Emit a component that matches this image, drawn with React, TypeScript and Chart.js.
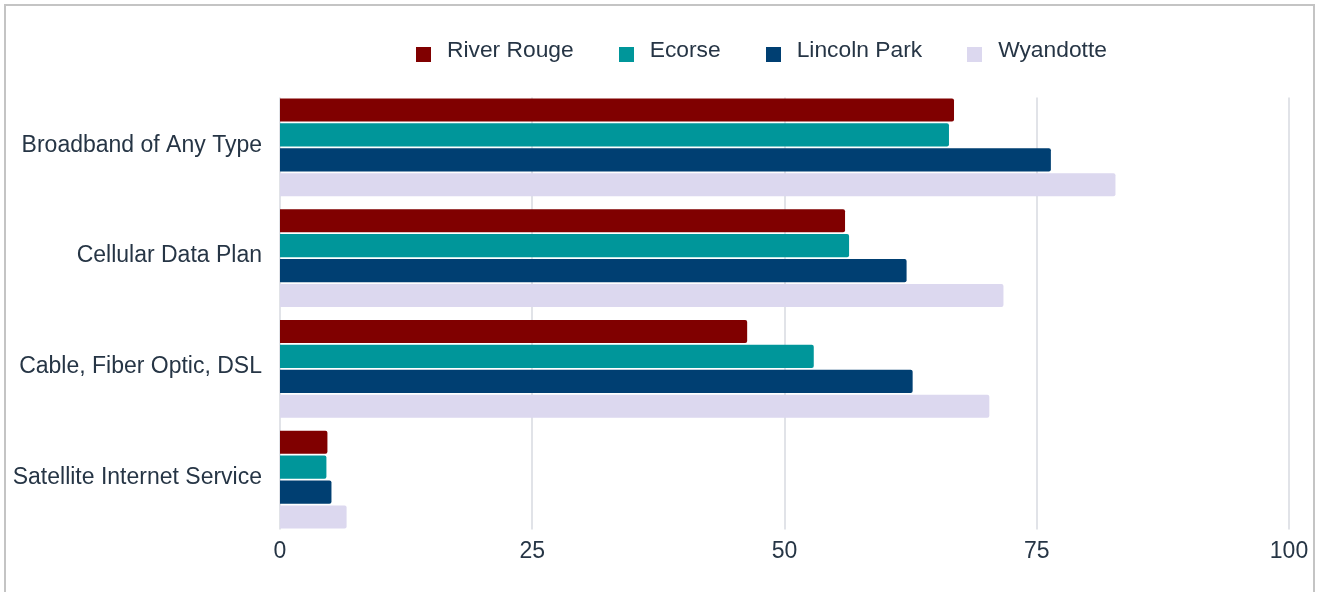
import React, { useEffect, useRef } from 'react';
import { Chart, registerables } from 'chart.js';

Chart.register(...registerables);

const categories = [
  'Broadband of Any Type',
  'Cellular Data Plan',
  'Cable, Fiber Optic, DSL',
  'Satellite Internet Service',
];
const seriesNames = ['River Rouge', 'Ecorse', 'Lincoln Park', 'Wyandotte'];
const riverRouge = [66.8, 56.0, 46.3, 4.7];
const ecorse = [66.3, 56.4, 52.9, 4.6];
const lincolnPark = [76.4, 62.1, 62.7, 5.1];
const wyandotte = [82.8, 71.7, 70.3, 6.6];
const xTicks = [0, 25, 50, 75, 100];
const seriesColors = ['#800000', '#00969a', '#003f72', '#dcd8ef'];

const FONT = "'Liberation Sans', Arial, sans-serif";
const TEXT = '#263545';
const CAT_PCT = 0.9;

const bandGrid = {
  id: 'bandGrid',
  beforeDatasetsDraw(chart: any) {
    const { ctx, chartArea, scales } = chart;
    const x = scales.x;
    const catW = (chartArea.bottom - chartArea.top) / categories.length;
    const top = chartArea.top + (catW * (1 - CAT_PCT)) / 2;
    const bottom = chartArea.bottom - (catW * (1 - CAT_PCT)) / 2;
    ctx.save();
    ctx.strokeStyle = '#e1e3e8';
    ctx.lineWidth = 2;
    xTicks.forEach((v) => {
      const px = Math.round(x.getPixelForValue(v));
      ctx.beginPath();
      ctx.moveTo(px, top);
      ctx.lineTo(px, bottom);
      ctx.stroke();
    });
    ctx.restore();
  },
};

export default function App() {
  const ref = useRef<HTMLCanvasElement | null>(null);

  useEffect(() => {
    if (!ref.current) return;
    const values = [riverRouge, ecorse, lincolnPark, wyandotte];
    const chart = new Chart(ref.current, {
      type: 'bar',
      data: {
        labels: categories,
        datasets: seriesNames.map((name, i) => ({
          label: name,
          data: values[i],
          backgroundColor: seriesColors[i],
          borderWidth: 0,
          borderRadius: 2,
          categoryPercentage: CAT_PCT,
          barPercentage: 0.93,
        })),
      },
      options: {
        indexAxis: 'y',
        animation: false,
        responsive: false,
        devicePixelRatio: 1,
        layout: { padding: { left: 0, top: 92, right: 29, bottom: 0 } },
        plugins: {
          legend: { display: false },
          tooltip: { enabled: false },
        },
        scales: {
          x: {
            min: 0,
            max: 100,
            afterBuildTicks: (scale: any) => {
              scale.ticks = xTicks.map((v) => ({ value: v }));
            },
            afterFit: (scale: any) => {
              scale.height = 57;
            },
            grid: { display: false, drawTicks: false },
            border: { display: false },
            ticks: {
              color: TEXT,
              font: { family: FONT, size: 23 },
              padding: 3,
              maxRotation: 0,
            },
          },
          y: {
            afterFit: (scale: any) => {
              scale.width = 280;
            },
            grid: { display: false, drawTicks: false },
            border: { display: false },
            ticks: {
              color: TEXT,
              font: { family: FONT, size: 23 },
              padding: 18,
              labelOffset: -2,
            },
          },
        },
      },
      plugins: [bandGrid],
    } as any);
    return () => chart.destroy();
  }, []);

  return (
    <div
      style={{
        position: 'fixed',
        left: 0,
        top: 0,
        width: 1318,
        height: 592,
        overflow: 'hidden',
        background: '#ffffff',
      }}
    >
      <div
        style={{
          position: 'absolute',
          left: 4,
          top: 4,
          width: 1311,
          height: 700,
          boxSizing: 'border-box',
          border: '2px solid #c4c4c4',
        }}
      />
      <canvas
        ref={ref}
        width={1318}
        height={592}
        style={{ position: 'absolute', left: 0, top: 0, width: 1318, height: 592 }}
      />
      <div
        style={{
          position: 'absolute',
          left: 416,
          top: 37,
          display: 'flex',
          gap: 45,
          fontFamily: FONT,
          fontSize: 22.8,
          lineHeight: '24px',
          color: TEXT,
          whiteSpace: 'nowrap',
        }}
      >
        {seriesNames.map((name, i) => (
          <div key={name} style={{ display: 'flex', alignItems: 'flex-start' }}>
            <span
              style={{
                display: 'inline-block',
                width: 15,
                height: 15,
                marginTop: 10,
                marginRight: 16,
                background: seriesColors[i],
              }}
            />
            <span>{name}</span>
          </div>
        ))}
      </div>
    </div>
  );
}
